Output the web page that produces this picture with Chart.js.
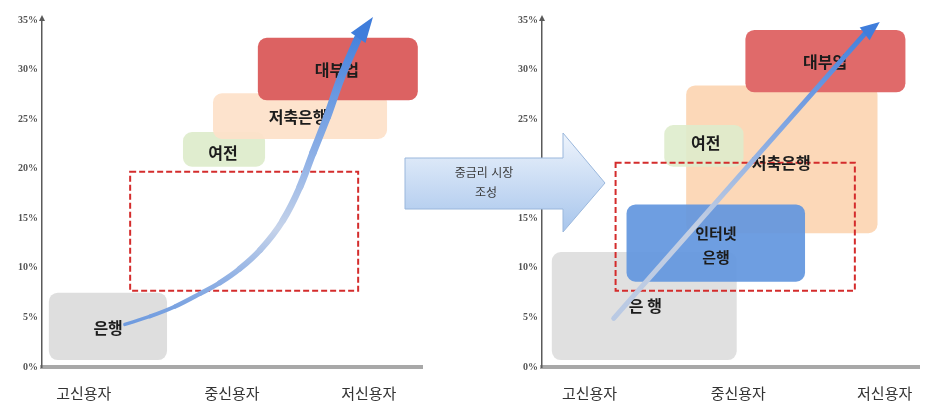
<!DOCTYPE html>
<html lang="ko">
<head>
<meta charset="UTF-8">
<title>중금리 시장 조성</title>
<script src="https://cdn.jsdelivr.net/npm/chart.js"></script>
<style>
    body { margin: 0; background: #fff; }
    .wrap { position: relative; width: 932px; height: 411px; overflow: hidden; }
    #leftChart { position: absolute; left: 0; top: 0; }
    #rightChart { position: absolute; left: 500px; top: 0; }
    #midArrow { position: absolute; left: 0; top: 0; z-index: 2; }
</style>
</head>
<body>
<div class="wrap">
    <canvas id="leftChart" width="430" height="411"></canvas>
    <canvas id="rightChart" width="430" height="411"></canvas>
    <svg id="midArrow" width="932" height="411">
        <defs>
            <linearGradient id="arrowFill" x1="0" y1="0" x2="0" y2="1">
                <stop offset="0" stop-color="#eef4fc"/>
                <stop offset="1" stop-color="#a7c5ec"/>
            </linearGradient>
        </defs>
        <polygon points="405,158 563,158 563,133 605,183 563,232 563,209 405,209"
                 fill="url(#arrowFill)" stroke="#9ab7dc" stroke-width="1"/>
        <text x="484" y="177" text-anchor="middle" font-family="Noto Sans CJK KR" font-size="12" fill="#3a3a3a">중금리 시장</text>
        <text x="486" y="197" text-anchor="middle" font-family="Noto Sans CJK KR" font-size="12" fill="#3a3a3a">조성</text>
    </svg>
</div>

<script>
// axis content
const categories = ['고신용자', '중신용자', '저신용자'];
const yTicks = [0, 5, 10, 15, 20, 25, 30, 35];
const leftCatPos = [1.1, 5.0, 8.6];
const rightCatPos = [1.26, 5.2, 9.08];

// left panel: current market
const leftNames = ['은행', '여전', '저축은행', '대부업'];
const leftBoxX = [[0.18, 3.29], [3.71, 5.87], [4.5, 9.08], [5.68, 9.89]];
const leftBoxY = [[0.7, 7.5], [20.2, 23.7], [23.0, 27.6], [26.9, 33.2]];
const leftLabelX = [1.74, 4.76, 6.74, 7.76];
const leftLabelY = [3.9, 21.6, 25.2, 30.0];
const leftGapX = [2.32, 8.32];
const leftGapY = [7.7, 19.7];
const leftCurveX = [2.18, 2.84, 3.5, 4.16, 4.68, 5.2, 5.74, 6.34, 6.79, 7.13, 7.5, 7.84, 8.32, 8.71];
const leftCurveY = [4.3, 5.1, 6.1, 7.4, 8.5, 9.9, 11.8, 14.8, 18.2, 21.6, 25.2, 28.9, 33.2, 35.3];

// right panel: after mid-rate market forms
const rightNames = ['은 행', '저축은행', '여전', '대부업', '인터넷\n은행'];
const rightBoxX = [[0.26, 5.16], [3.82, 8.89], [3.24, 5.34], [5.39, 9.63], [2.24, 6.97]];
const rightBoxY = [[0.7, 11.6], [13.5, 28.4], [20.2, 24.4], [27.7, 34.0], [8.6, 16.4]];
const rightLabelX = [2.74, 6.34, 4.34, 7.5, 4.61];
const rightLabelY = [6.2, 20.6, 22.6, 30.8, 12.3];
const rightGapX = [1.95, 8.29];
const rightGapY = [7.7, 20.6];
const rightCurveX = [1.9, 8.55, 8.95];
const rightCurveY = [4.9, 33.6, 34.8];

const leftColors = ['rgba(218,218,218,0.9)', 'rgba(222,236,204,0.95)', 'rgba(253,226,202,0.95)', '#dc6262'];
const rightColors = ['rgba(218,218,218,0.85)', 'rgba(252,212,176,0.9)', 'rgba(222,236,204,0.9)', '#e06a6a', 'rgba(98,150,222,0.92)'];

function panelPlugin(p) {
    return {
        id: 'panelBoxes',
        beforeDatasetsDraw(chart) {
            const { ctx, scales: { x, y } } = chart;
            ctx.save();
            p.names.forEach((n, i) => {
                const x0 = x.getPixelForValue(p.boxX[i][0]);
                const x1 = x.getPixelForValue(p.boxX[i][1]);
                const y0 = y.getPixelForValue(p.boxY[i][1]);
                const y1 = y.getPixelForValue(p.boxY[i][0]);
                ctx.fillStyle = p.colors[i];
                ctx.beginPath();
                ctx.roundRect(x0, y0, x1 - x0, y1 - y0, 9);
                ctx.fill();
            });
            // dashed target range
            const gx0 = x.getPixelForValue(p.gapX[0]), gx1 = x.getPixelForValue(p.gapX[1]);
            const gy0 = y.getPixelForValue(p.gapY[1]), gy1 = y.getPixelForValue(p.gapY[0]);
            ctx.strokeStyle = '#d42c2c';
            ctx.lineWidth = 2;
            ctx.setLineDash([6, 3]);
            ctx.strokeRect(gx0, gy0, gx1 - gx0, gy1 - gy0);
            ctx.setLineDash([]);
            // box names
            ctx.fillStyle = '#1c1c1c';
            ctx.textAlign = 'center';
            ctx.textBaseline = 'middle';
            p.names.forEach((n, i) => {
                const lines = n.split('\n');
                ctx.font = 'bold ' + (lines.length > 1 ? 15 : 16) + 'px "Noto Sans CJK KR"';
                const cx = x.getPixelForValue(p.labelX[i]);
                const cy = y.getPixelForValue(p.labelY[i]);
                lines.forEach((t, k) => {
                    ctx.fillText(t, cx, cy + (k - (lines.length - 1) / 2) * 24);
                });
            });
            ctx.restore();
        },
        afterDatasetsDraw(chart) {
            const { ctx, scales: { x, y }, chartArea } = chart;
            ctx.save();
            // arrow head at end of curve
            const n = p.curveX.length;
            const bx = x.getPixelForValue(p.curveX[n - 2]), by = y.getPixelForValue(p.curveY[n - 2]);
            const tx = x.getPixelForValue(p.curveX[n - 1]), ty = y.getPixelForValue(p.curveY[n - 1]);
            const a = Math.atan2(ty - by, tx - bx);
            const w = p.headW;
            ctx.fillStyle = '#3f7ddb';
            ctx.beginPath();
            ctx.moveTo(tx, ty);
            ctx.lineTo(bx + Math.cos(a + Math.PI / 2) * w, by + Math.sin(a + Math.PI / 2) * w);
            ctx.lineTo(bx + Math.cos(a - Math.PI / 2) * w, by + Math.sin(a - Math.PI / 2) * w);
            ctx.closePath();
            ctx.fill();
            // small head on the y axis
            ctx.fillStyle = '#5a5a5a';
            ctx.beginPath();
            ctx.moveTo(chartArea.left, chartArea.top - 5);
            ctx.lineTo(chartArea.left - 3, chartArea.top + 1);
            ctx.lineTo(chartArea.left + 3, chartArea.top + 1);
            ctx.closePath();
            ctx.fill();
            ctx.restore();
        }
    };
}

function drawPanel(id, p) {
    const pts = p.curveX.slice(0, -1).map((v, i) => ({ x: v, y: p.curveY[i] }));
    const segCount = pts.length - 1;
    return new Chart(document.getElementById(id), {
        type: 'line',
        data: {
            datasets: [{
                data: pts,
                borderWidth: p.lineW[1],
                pointRadius: 0,
                tension: 0.4,
                cubicInterpolationMode: 'monotone',
                borderCapStyle: 'round',
                clip: false,
                // the stroke thickens toward the head
                segment: {
                    borderWidth: (c) => p.lineW[0] + (p.lineW[1] - p.lineW[0]) * Math.min(1, (c.p0DataIndex + 1) / Math.max(1, segCount - 1))
                },
                borderColor: (c) => {
                    const area = c.chart.chartArea;
                    if (!area) return '#4a86dd';
                    const g = c.chart.ctx.createLinearGradient(0, area.bottom, 0, area.top);
                    p.stops.forEach(s => g.addColorStop(s[0], s[1]));
                    return g;
                }
            }]
        },
        options: {
            responsive: false,
            animation: false,
            layout: { padding: { top: 20, right: 8, left: 0, bottom: 0 } },
            plugins: { legend: { display: false }, tooltip: { enabled: false } },
            scales: {
                x: {
                    type: 'linear', min: 0, max: 10,
                    afterFit: (s) => { s.height = 44; },
                    afterBuildTicks: (s) => { s.ticks = p.catPos.map(v => ({ value: v })); },
                    grid: { display: false, drawTicks: false },
                    border: { color: '#a8a8a8', width: 4 },
                    ticks: {
                        callback: (v, i) => categories[i],
                        autoSkip: false, maxRotation: 0, padding: 17,
                        color: '#333',
                        font: { family: '"Noto Sans CJK KR"', size: 15 }
                    }
                },
                y: {
                    min: 0, max: 35,
                    afterFit: (s) => { s.width = 42; },
                    afterBuildTicks: (s) => { s.ticks = yTicks.map(v => ({ value: v })); },
                    grid: { display: false, drawTicks: false },
                    border: { color: '#5a5a5a', width: 1.5 },
                    ticks: {
                        callback: (v) => v + '%',
                        padding: 4,
                        color: '#555',
                        font: { family: '"Liberation Serif"', size: 10, weight: 'bold' }
                    }
                }
            }
        },
        plugins: [panelPlugin(p)]
    });
}

drawPanel('leftChart', {
    names: leftNames, boxX: leftBoxX, boxY: leftBoxY, colors: leftColors,
    labelX: leftLabelX, labelY: leftLabelY, gapX: leftGapX, gapY: leftGapY,
    curveX: leftCurveX, curveY: leftCurveY, catPos: leftCatPos,
    lineW: [3, 8], headW: 9,
    stops: [[0, '#4f86da'], [0.25, '#8fb0e4'], [0.4, '#c6d3ea'], [0.6, '#8fb1e6'], [1, '#3d7cdb']]
});

drawPanel('rightChart', {
    names: rightNames, boxX: rightBoxX, boxY: rightBoxY, colors: rightColors,
    labelX: rightLabelX, labelY: rightLabelY, gapX: rightGapX, gapY: rightGapY,
    curveX: rightCurveX, curveY: rightCurveY, catPos: rightCatPos,
    lineW: [5, 5], headW: 8,
    stops: [[0, '#b3c6e4'], [0.4, '#c4cfe2'], [0.7, '#7fa5e2'], [1, '#3d7cdb']]
});
</script>
</body>
</html>
